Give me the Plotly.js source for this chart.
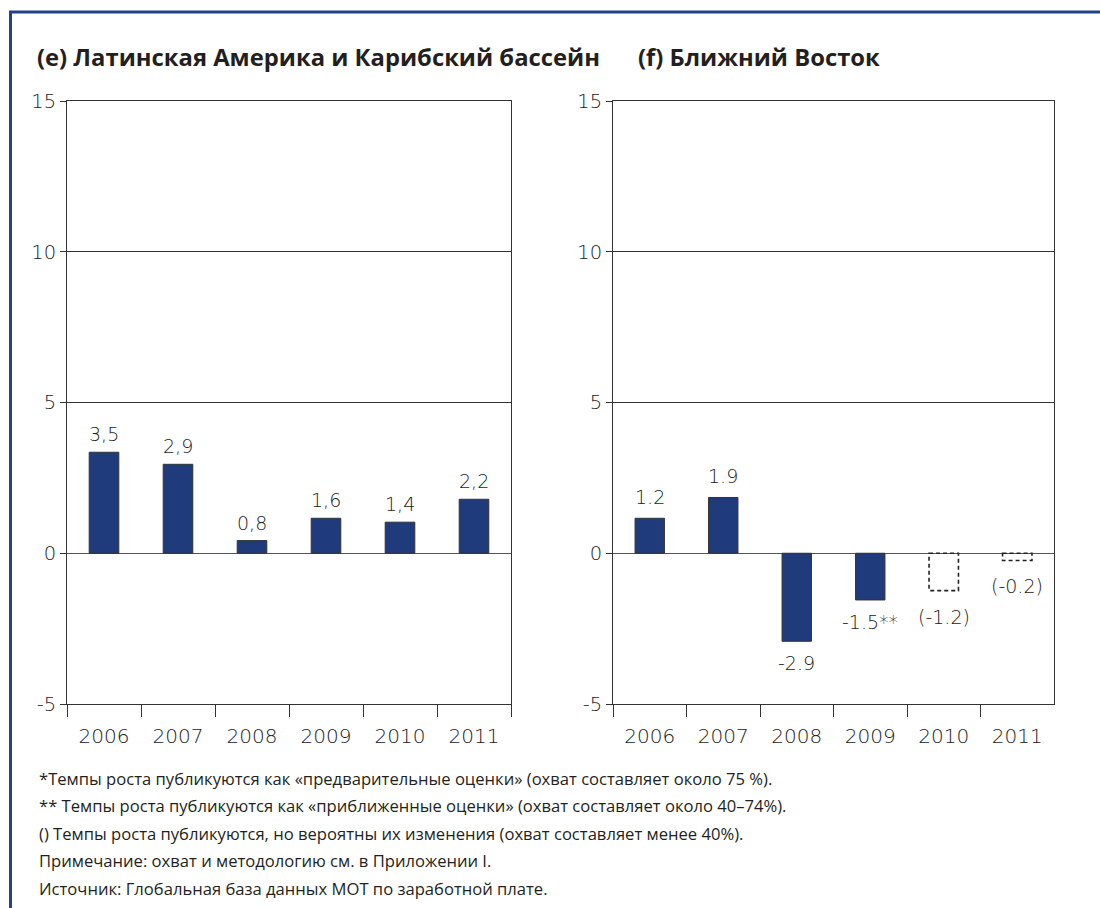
<!DOCTYPE html>
<html>
<head>
<meta charset="utf-8">
<script src="https://cdn.plot.ly/plotly-3.0.1.min.js"></script>
<style>
html,body{margin:0;padding:0;background:#fff;}
#chart{width:1100px;height:908px;}
</style>
</head>
<body>
<div id="chart"></div>
<script>
// ---- data ----
const years = ['2006', '2007', '2008', '2009', '2010', '2011'];
const latamValues = [3.35, 2.95, 0.42, 1.16, 1.03, 1.79];
const latamLabels = ['3,5', '2,9', '0,8', '1,6', '1,4', '2,2'];
const meValues = [1.16, 1.85, -2.92, -1.55, -1.24, -0.24];
const meLabels = ['1.2', '1.9', '-2.9', '-1.5**', '(-1.2)', '(-0.2)'];
const meTentative = [false, false, false, false, true, true];
const yTicks = [-5, 0, 5, 10, 15];
const titleLeft = '(e) Латинская Америка и Карибский бассейн';
const titleRight = '(f) Ближний Восток';
const notes = [
  '*Темпы роста публикуются как «предварительные оценки» (охват составляет около 75 %).',
  '** Темпы роста публикуются как «приближенные оценки» (охват составляет около 40–74%).',
  '() Темпы роста публикуются, но вероятны их изменения (охват составляет менее 40%).',
  'Примечание: охват и методологию см. в Приложении I.',
  'Источник: Глобальная база данных МОТ по заработной плате.'
];

// ---- styles ----
const W = 1100, H = 908;
const px = v => v / W;
const py = v => 1 - v / H;
const barColor = '#1f3b7b';
const lineColor = '#333333';
const tickFont = {family: 'DejaVu Sans', size: 19.5, color: '#1a1a1a', weight: 200};
const yearFont = {family: 'DejaVu Sans', size: 20, color: '#1a1a1a', weight: 200};
const labelFont = {family: 'DejaVu Sans', size: 19, color: '#1a1a1a', weight: 200};
const BW = 0.4;

const traces = [
  {
    type: 'bar', x: years, y: latamValues, xaxis: 'x', yaxis: 'y',
    width: BW,
    marker: {color: barColor, line: {color: '#333', width: 1}},
    hoverinfo: 'x+y', showlegend: false
  },
  {
    type: 'bar', x: years, y: meValues.map((v, i) => meTentative[i] ? null : v),
    xaxis: 'x2', yaxis: 'y2', width: BW,
    marker: {color: barColor, line: {color: '#333', width: 1}},
    hoverinfo: 'x+y', showlegend: false
  }
];

const annotations = [];
latamValues.forEach((v, i) => {
  annotations.push({
    xref: 'x', yref: 'y', x: i, y: v, text: latamLabels[i],
    showarrow: false, yanchor: 'bottom', yshift: 5, font: labelFont
  });
});
meValues.forEach((v, i) => {
  annotations.push({
    xref: 'x2', yref: 'y2', x: i, y: v, text: meLabels[i],
    showarrow: false, yanchor: v >= 0 ? 'bottom' : 'top',
    yshift: v >= 0 ? 8 : (meTentative[i] ? -13 : -9), font: labelFont
  });
});
annotations.push({
  xref: 'paper', yref: 'paper', x: px(35), y: py(57), xanchor: 'left', yanchor: 'middle',
  text: '<b>' + titleLeft + '</b>', showarrow: false,
  font: {family: 'Open Sans', size: 23.8, color: '#231f20'}
});
annotations.push({
  xref: 'paper', yref: 'paper', x: px(636), y: py(57), xanchor: 'left', yanchor: 'middle',
  text: '<b>' + titleRight + '</b>', showarrow: false,
  font: {family: 'Open Sans', size: 23.8, color: '#231f20'}
});
notes.forEach((t, i) => {
  annotations.push({
    xref: 'paper', yref: 'paper', x: px(37), y: py(778 + i * 27.5),
    xanchor: 'left', yanchor: 'middle', text: t, showarrow: false,
    font: {family: 'Open Sans', size: 16.6, color: '#231f20'}
  });
});

const shapes = [];
// dashed outlines for tentative bars
meValues.forEach((v, i) => {
  if (meTentative[i]) {
    shapes.push({
      type: 'rect', xref: 'x2', yref: 'y2',
      x0: i - BW / 2, x1: i + BW / 2, y0: 0, y1: v,
      line: {color: '#222', width: 1.6, dash: '4px,3px'}, fillcolor: 'rgba(0,0,0,0)'
    });
  }
});
// frame border (blue)
shapes.push({type: 'line', xref: 'paper', yref: 'paper', x0: px(9), x1: 1, y0: py(12), y1: py(12),
  line: {color: '#22418a', width: 3}});
shapes.push({type: 'line', xref: 'paper', yref: 'paper', x0: px(10.5), x1: px(10.5), y0: py(11), y1: 0,
  line: {color: '#22418a', width: 3}});

function xAxis(domain, anchor) {
  return {
    domain: domain, anchor: anchor, type: 'category',
    categoryorder: 'array', categoryarray: years,
    range: [-0.5, years.length - 0.5], autorange: false,
    showline: true, linecolor: lineColor, linewidth: 1, mirror: true,
    ticks: 'outside', tickson: 'boundaries', ticklen: 12, tickcolor: lineColor, tickwidth: 1,
    tickangle: 0, ticklabelstandoff: 14,
    tickfont: yearFont, showgrid: false, fixedrange: true
  };
}
function yAxis(anchor) {
  return {
    domain: [py(704), py(101)], anchor: anchor, range: [-5, 15], autorange: false,
    tickvals: yTicks, ticktext: yTicks.map(String),
    showline: true, linecolor: lineColor, linewidth: 1, mirror: true,
    ticks: 'outside', ticklen: 6, tickcolor: lineColor, tickwidth: 1,
    showgrid: true, gridcolor: lineColor, gridwidth: 1,
    zeroline: true, zerolinecolor: '#555', zerolinewidth: 1,
    tickfont: tickFont, fixedrange: true
  };
}

const layout = {
  width: W, height: H,
  margin: {l: 0, r: 0, t: 0, b: 0},
  paper_bgcolor: '#fff', plot_bgcolor: '#fff',
  showlegend: false,
  xaxis: xAxis([px(67), px(511)], 'y'),
  yaxis: yAxis('x'),
  xaxis2: xAxis([px(613), px(1054)], 'y2'),
  yaxis2: yAxis('x2'),
  annotations: annotations,
  shapes: shapes
};

Plotly.newPlot('chart', traces, layout, {displayModeBar: false, staticPlot: true});
</script>
</body>
</html>
